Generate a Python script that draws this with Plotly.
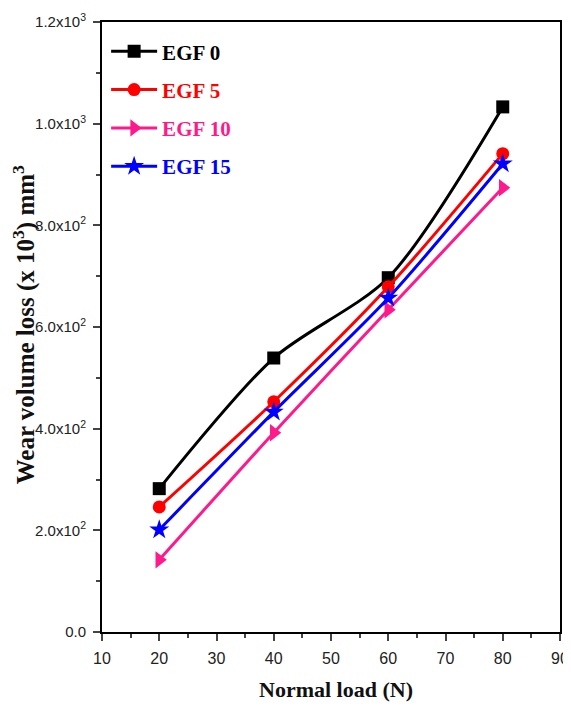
import plotly.graph_objects as go

loads = [20, 40, 60, 80]
egf0 = [282, 539, 697, 1033]
egf5 = [246, 453, 679, 941]
egf10 = [142, 392, 634, 874]
egf15 = [201, 433, 657, 921]

series_names = ["EGF 0", "EGF 5", "EGF 10", "EGF 15"]
series_vals = [egf0, egf5, egf10, egf15]
colors = ["#000000", "#ff0000", "#ff1a8c", "#0000ff"]
symbols = ["square", "circle", "triangle-right", "star"]
msizes = [13, 13, 15, 15]

ytick_vals = [0, 200, 400, 600, 800, 1000, 1200]
ytick_text = ["0.0", "2.0x10<sup>2</sup>", "4.0x10<sup>2</sup>", "6.0x10<sup>2</sup>",
              "8.0x10<sup>2</sup>", "1.0x10<sup>3</sup>", "1.2x10<sup>3</sup>"]
xtick_vals = [10, 20, 30, 40, 50, 60, 70, 80, 90]
x_title = "<b>Normal load (N)</b>"
y_title = "<b>Wear volume loss (x 10<sup>3</sup>) mm<sup>3</sup></b>"

fig = go.Figure()
for name, vals, c, s, ms in zip(series_names, series_vals, colors, symbols, msizes):
    fig.add_trace(go.Scatter(
        x=loads, y=vals, mode="lines+markers",
        name=f'<b><span style="color:{c}">{name}</span></b>',
        legendgroup=name,
        line=dict(color=c, width=3, shape="spline", smoothing=0.8),
        marker=dict(symbol=s, size=ms, color=c),
    ))

axis_font = dict(family="Liberation Sans, Arial", size=15, color="#222")
title_font = dict(family="Liberation Serif, Times New Roman", color="#111")
# page body has an 8px margin; figure sized so the plot box lands at x 102-560, y 22-632
fig.update_layout(
    width=571, height=701,
    margin=dict(l=94, r=19, t=14, b=77),
    paper_bgcolor="white", plot_bgcolor="white",
    showlegend=True,
    legend=dict(
        x=0.009, y=0.985, xanchor="left", yanchor="top",
        font=dict(family="Liberation Serif, Times New Roman", size=21, color="black"),
        bgcolor="rgba(0,0,0,0)", tracegroupgap=8, itemwidth=46,
    ),
    xaxis=dict(
        range=[10, 90], tickvals=xtick_vals, ticks="outside", ticklen=7, tickwidth=2,
        showline=True, linewidth=2, linecolor="black", mirror=True, showgrid=False,
        zeroline=False, tickfont=dict(axis_font, size=16), automargin=False,
        ticklabelstandoff=4, ticklabeloverflow="allow",
        minor=dict(ticks="outside", ticklen=4, tickwidth=2, dtick=5, tick0=10, showgrid=False),
    ),
    yaxis=dict(
        range=[0, 1200], tickvals=ytick_vals, ticktext=ytick_text, ticks="outside",
        ticklen=7, tickwidth=2,
        showline=True, linewidth=2, linecolor="black", mirror=True, showgrid=False,
        zeroline=False, tickfont=axis_font, automargin=False, ticklabelstandoff=4,
        ticklabeloverflow="allow",
        minor=dict(ticks="outside", ticklen=4, tickwidth=2, dtick=100, tick0=0, showgrid=False),
    ),
    annotations=[
        dict(text=x_title, xref="paper", yref="paper", x=0.511, y=-0.095,
             xanchor="center", yanchor="middle", showarrow=False,
             font=dict(size=22, **title_font)),
        dict(text=y_title, xref="paper", yref="paper", x=-0.170, y=0.503,
             xanchor="center", yanchor="middle", showarrow=False, textangle=-90,
             font=dict(size=25, **title_font)),
    ],
)

fig.write_html("out.html")
